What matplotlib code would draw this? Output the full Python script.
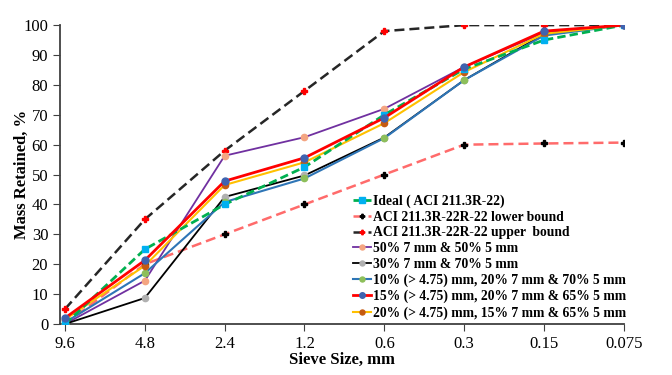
import matplotlib.pyplot as plt
import numpy as np

plt.rcParams["font.family"] = ["Liberation Serif", "DejaVu Serif"]

sieves = ["9.6", "4.8", "2.4", "1.2", "0.6", "0.3", "0.15", "0.075"]

ideal = [0, 25, 40, 52.5, 70, 85.3, 95, 100]
lower = [0, 20, 30, 40, 50, 60, 60.4, 60.7]
upper = [5, 35, 58, 78, 98, 100, 100, 100]
mix_50_50 = [0, 14.5, 56.3, 62.5, 72, 86, 97.5, 100]
mix_30_70 = [0, 8.7, 42.5, 49.7, 62.4, 81.6, 97, 100]
mix_10_20_70 = [0.5, 17, 40.8, 48.7, 62.2, 81.6, 96.5, 100]
mix_15_20_65 = [2, 21.3, 47.8, 55.6, 69, 86, 98, 100]
mix_20_15_65 = [1.5, 19.5, 46.5, 54.1, 67.2, 84.3, 97.1, 100]

x = np.arange(len(sieves))

fig = plt.figure(figsize=(6.72, 3.75), dpi=100)
ax = fig.add_axes([0.0893, 0.136, 0.839, 0.797])

ax.plot(x, upper, color="#262626", ls=(0, (4, 2)), lw=1.8, marker="P", ms=4,
        mfc="red", mec="red", label="ACI 211.3R-22R-22 upper  bound", zorder=3)
ax.plot(x, lower, color="#FF6B6B", ls=(0, (4, 2)), lw=1.8, marker="P", ms=4,
        mfc="black", mec="black", label="ACI 211.3R-22R-22 lower bound", zorder=3)
ax.plot(x, mix_50_50, color="#7030A0", lw=1.3, marker="o", ms=4.5,
        mfc="#F4A582", mec="#F4A582", label="50% 7 mm & 50% 5 mm", zorder=4)
ax.plot(x, mix_30_70, color="black", lw=1.3, marker="o", ms=4.5,
        mfc="#B0B0B0", mec="#B0B0B0", label="30% 7 mm & 70% 5 mm", zorder=4)
ax.plot(x, mix_10_20_70, color="#2E75B6", lw=1.5, marker="o", ms=4.5,
        mfc="#8DBF5A", mec="#8DBF5A", label="10% (> 4.75) mm, 20% 7 mm & 70% 5 mm", zorder=4)
ax.plot(x, mix_20_15_65, color="#FFC000", lw=1.5, marker="o", ms=4.5,
        mfc="#C55A11", mec="#C55A11", label="20% (> 4.75) mm, 15% 7 mm & 65% 5 mm", zorder=4)
ax.plot(x, mix_15_20_65, color="#FF0000", lw=2.0, marker="o", ms=5,
        mfc="#3F63B0", mec="#3F63B0", label="15% (> 4.75) mm, 20% 7 mm & 65% 5 mm", zorder=5)
ax.plot(x, ideal, color="#00B050", ls=(0, (3, 1.5)), lw=2.0, marker="s", ms=5,
        mfc="#00B0F0", mec="#00B0F0", label="Ideal ( ACI 211.3R-22)", zorder=4)

ax.set_xlim(-0.0625, 7)
ax.set_ylim(0, 100)
ax.set_xticks(x)
ax.set_xticklabels(sieves)
ax.set_yticks(np.arange(0, 101, 10))
ax.tick_params(axis="both", labelsize=12, direction="out", length=5, color="#404040")

for s in ("top", "right"):
    ax.spines[s].set_visible(False)
for s in ("left", "bottom"):
    ax.spines[s].set_color("#404040")
    ax.spines[s].set_linewidth(1.3)

ax.set_xlabel("Sieve Size, mm", fontsize=12, fontweight="bold", labelpad=0)
ax.set_ylabel("Mass Retained, %", fontsize=12, fontweight="bold", labelpad=-5)

handles, labels = ax.get_legend_handles_labels()
order = ["Ideal ( ACI 211.3R-22)",
         "ACI 211.3R-22R-22 lower bound",
         "ACI 211.3R-22R-22 upper  bound",
         "50% 7 mm & 50% 5 mm",
         "30% 7 mm & 70% 5 mm",
         "10% (> 4.75) mm, 20% 7 mm & 70% 5 mm",
         "15% (> 4.75) mm, 20% 7 mm & 65% 5 mm",
         "20% (> 4.75) mm, 15% 7 mm & 65% 5 mm"]
hmap = dict(zip(labels, handles))
leg = ax.legend([hmap[l] for l in order], order, loc="upper left",
                bbox_to_anchor=(0.513, 0.503), bbox_transform=fig.transFigure,
                frameon=False, handlelength=1.3, handletextpad=0.2,
                labelspacing=0.2, borderpad=0.1, markerscale=0.8,
                prop={"weight": "bold", "size": 9.8})

fig.savefig("out.png", dpi=100, facecolor="white")
